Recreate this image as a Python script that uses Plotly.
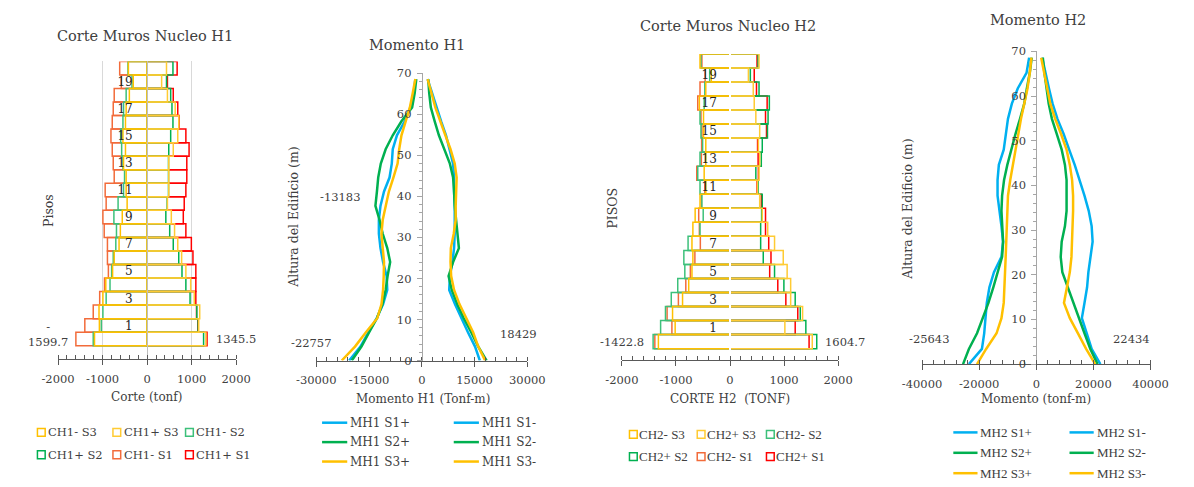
import plotly.graph_objects as go

# ---------------- DATA ----------------
floors = list(range(21))
floor_ticks = [1, 3, 5, 7, 9, 11, 13, 15, 17, 19]
corte_ticks = [-2000, -1000, 0, 1000, 2000]
mom1_ticks = [-30000, -15000, 0, 15000, 30000]
mom2_ticks = [-40000, -20000, 0, 20000, 40000]

# Corte Muros Nucleo H1 (tonf), floor 0 -> 20
ch1_s3n = [-1181, -1072, -1080, -993, -928, -775, -739, -630, -601, -558, -449, -471, -471, -529, -486, -543, -486, -471, -399, -312, -420]
ch1_s3p = [1320, 1159, 1181, 1058, 978, 870, 775, 688, 616, 543, 456, 486, 486, 486, 587, 688, 710, 630, 456, 326, 435]
ch1_s2n = [-1210, -1029, -993, -920, -833, -797, -761, -703, -688, -746, -652, -529, -507, -543, -572, -594, -543, -529, -471, -340, -430]
ch1_s2p = [1268, 1145, 1116, 964, 870, 783, 710, 587, 507, 420, 450, 480, 480, 480, 486, 529, 580, 558, 529, 435, 580]
ch1_s1n = [-1599.7, -1399, -1210, -1065, -957, -870, -891, -891, -964, -993, -920, -942, -739, -761, -783, -812, -783, -761, -739, -580, -616]
ch1_s1p = [1345.5, 1140, 1109, 1094, 1094, 1094, 1029, 993, 870, 812, 833, 870, 891, 891, 942, 870, 717, 688, 587, 456, 674]

# Corte Muros Nucleo H2 (tonf), floor 0 -> 20
ch2_s3n = [-1325, -1015, -1063, -878, -764, -704, -687, -704, -687, -645, -555, -448, -478, -448, -448, -490, -490, -567, -448, -346, -555]
ch2_s3p = [1522, 1015, 1343, 1122, 1122, 1057, 985, 824, 698, 597, 549, 507, 537, 549, 525, 549, 478, 448, 430, 340, 537]
ch2_s2n = [-1422.8, -1284, -1194, -1087, -967, -836, -854, -776, -555, -496, -520, -555, -597, -555, -507, -537, -555, -478, -466, -376, -537]
ch2_s2p = [1604.7, 1403, 1300, 1206, 997, 824, 615, 567, 567, 585, 597, 519, 478, 579, 597, 693, 704, 728, 537, 376, 519]
ch2_s1n = [-1391, -1075, -1164, -955, -818, -734, -650, -549, -567, -579, -530, -466, -615, -530, -525, -520, -537, -597, -555, -460, -520]
ch2_s1p = [1463, 1206, 1254, 1033, 884, 734, 758, 716, 657, 657, 579, 500, 525, 520, 510, 675, 657, 687, 490, 448, 500]

# Building heights (m)
heights = [0, 3.4, 6.9, 10.3, 13.7, 17.2, 20.6, 24.0, 27.4, 30.9, 34.3, 37.7, 41.2, 44.6, 48.0, 51.5, 54.9, 58.3, 61.7, 65.2, 68.6]

# Momento H1 (tonf-m)
mh1_s1p = [16513, 15137, 13119, 11284, 9449, 7798, 7981, 8715, 9174, 9357, 9449, 9357, 9174, 9174, 8899, 7981, 6881, 5504, 4128, 2936, 1651]
mh1_s1n = [-20641, -17431, -15137, -12844, -11009, -9816, -10000, -11009, -11743, -12201, -12201, -11743, -10734, -9174, -8532, -8257, -7064, -4862, -3211, -2294, -1835]
mh1_s2p = [18429, 16055, 14036, 11926, 10091, 8532, 7614, 8899, 10550, 10091, 9633, 9357, 9174, 8899, 7981, 6422, 4862, 3670, 2569, 2110, 1835]
mh1_s2n = [-19908, -17155, -14954, -12752, -11192, -10275, -9724, -8991, -9816, -11101, -12018, -13183, -12752, -12385, -11651, -10275, -8257, -5780, -2752, -2018, -1560]
mh1_s3p = [18000, 16055, 14587, 12568, 10734, 9174, 8348, 8165, 8257, 9082, 9633, 9633, 9816, 9908, 9357, 8165, 6697, 5229, 3853, 2752, 1651]
mh1_s3n = [-22757, -18990, -15871, -12660, -11468, -11009, -10825, -10734, -11101, -11468, -11101, -10275, -9357, -8073, -6881, -6422, -5780, -4587, -3394, -2569, -1835]

# Momento H2 (tonf-m)
mh2_s1p = [22434, 19380, 17670, 15960, 16872, 17784, 18240, 19038, 19722, 19380, 18354, 16872, 15276, 13452, 11514, 9576, 7410, 5700, 4446, 3192, 2052]
mh2_s1n = [-23598, -19038, -18240, -17784, -17328, -16416, -14820, -12198, -11628, -12198, -12996, -13566, -13566, -13110, -11400, -10716, -9918, -8550, -6498, -3420, -2508]
mh2_s2p = [21432, 18924, 16872, 14934, 13110, 10944, 9120, 8550, 8892, 10032, 10602, 10602, 10602, 10032, 8892, 7182, 5472, 4332, 3534, 2850, 2280]
mh2_s2n = [-25643, -23598, -20748, -18696, -16758, -15048, -13566, -11970, -11628, -11970, -12198, -11970, -11286, -10146, -8778, -7296, -5700, -4218, -3306, -2280, -1596]
mh2_s3p = [20634, 17442, 14592, 11742, 9690, 10602, 11742, 12312, 12540, 12882, 12882, 12882, 12540, 11742, 10602, 8664, 6612, 4902, 3762, 2622, 1710]
mh2_s3n = [-20748, -17556, -13908, -12198, -11400, -11286, -10944, -10716, -10488, -10488, -10260, -9918, -9120, -8208, -7296, -6498, -5358, -4218, -3078, -2280, -1710]

# ---------------- STYLE ----------------
W, H = 1194, 487
SERIF = "DejaVu Serif"
SERIF2 = "Liberation Serif"
TXT = "#404040"
YELLOW, YELLOW2 = "#FFC000", "#FFCB33"
GREEN, GREEN2 = "#00B050", "#3CC07A"
ORANGE, RED, BLUE = "#F26B3A", "#FF0000", "#00B0F0"


def px(x):
    return x / W


def py(y):
    return 1 - y / H


fig = go.Figure()


def add_bar(vals, name, color, xa, ya):
    fig.add_trace(go.Bar(
        x=vals, y=floors, orientation="h", width=1, name=name, showlegend=False,
        marker=dict(color="rgba(0,0,0,0)", line=dict(color=color, width=1.5)),
        xaxis=xa, yaxis=ya,
    ))


def add_line(vals, name, color, xa, ya):
    fig.add_trace(go.Scatter(
        x=vals, y=heights, mode="lines", name=name, showlegend=False,
        line=dict(color=color, width=2.5), xaxis=xa, yaxis=ya,
    ))


# Panel 1 bars (S1 drawn first, S3 last / on top)
p1 = [(ch1_s1n, "CH1- S1", ORANGE), (ch1_s1p, "CH1+ S1", RED),
      (ch1_s2n, "CH1- S2", GREEN2), (ch1_s2p, "CH1+ S2", GREEN),
      (ch1_s3n, "CH1- S3", YELLOW), (ch1_s3p, "CH1+ S3", YELLOW2)]
for v, n, c in p1:
    add_bar(v, n, c, "x", "y")

p2 = [(mh1_s1p, "MH1 S1+", BLUE), (mh1_s1n, "MH1 S1-", BLUE),
      (mh1_s2p, "MH1 S2+", GREEN), (mh1_s2n, "MH1 S2-", GREEN),
      (mh1_s3p, "MH1 S3+", YELLOW), (mh1_s3n, "MH1 S3-", YELLOW)]
for v, n, c in p2:
    add_line(v, n, c, "x2", "y2")

p3 = [(ch2_s1n, "CH2- S1", ORANGE), (ch2_s1p, "CH2+ S1", RED),
      (ch2_s2n, "CH2- S2", GREEN2), (ch2_s2p, "CH2+ S2", GREEN),
      (ch2_s3n, "CH2- S3", YELLOW), (ch2_s3p, "CH2+ S3", YELLOW2)]
for v, n, c in p3:
    add_bar(v, n, c, "x3", "y3")

p4 = [(mh2_s1p, "MH2 S1+", BLUE), (mh2_s1n, "MH2 S1-", BLUE),
      (mh2_s2p, "MH2 S2+", GREEN), (mh2_s2n, "MH2 S2-", GREEN),
      (mh2_s3p, "MH2 S3+", YELLOW), (mh2_s3n, "MH2 S3-", YELLOW)]
for v, n, c in p4:
    add_line(v, n, c, "x4", "y4")

tickfont = dict(family=SERIF, size=11.5, color=TXT)
AX = "#595959"


def xaxis(dom, rng, anchor, ticks, minor, grid=False):
    return dict(domain=[px(dom[0]), px(dom[1])], range=rng, anchor=anchor,
                tickmode="array", tickvals=ticks, ticktext=[str(t) for t in ticks],
                showline=True, linecolor=AX, linewidth=1,
                ticks="outside", ticklen=5, tickcolor=AX,
                minor=dict(tickmode="linear", dtick=minor, tick0=0, ticks="inside", ticklen=4,
                           tickcolor=AX, showgrid=False),
                showgrid=grid, gridcolor="#D9D9D9", gridwidth=1, zeroline=False,
                tickfont=tickfont, ticklabelstandoff=4, fixedrange=True)


def yaxis_floors(dom, rng, pos, linecolor, lw, standoff):
    return dict(domain=[py(dom[0]), py(dom[1])], range=rng, anchor="free", position=px(pos),
                tickmode="array", tickvals=floor_ticks, ticktext=[str(t) for t in floor_ticks],
                ticks="", showline=True, linecolor=linecolor, linewidth=lw,
                layer="above traces", ticklabelstandoff=standoff, showgrid=False, zeroline=False,
                tickfont=dict(family=SERIF, size=12, color="#262626"), fixedrange=True)


def yaxis_height(dom, pos):
    return dict(domain=[py(dom[0]), py(dom[1])], range=[0, 70], anchor="free", position=px(pos),
                dtick=10, tick0=0, ticks="outside", ticklen=5, tickcolor="#A6A6A6", showline=True,
                linecolor="#A6A6A6", minor=dict(dtick=2, tick0=0, ticks="outside", ticklen=3, tickcolor="#A6A6A6"),
                showgrid=False, zeroline=False, tickfont=tickfont, ticklabelstandoff=3, fixedrange=True)


fig.update_layout(
    width=W, height=H, margin=dict(l=0, r=0, t=0, b=0),
    paper_bgcolor="white", plot_bgcolor="white", barmode="overlay", showlegend=False,
    font=dict(family=SERIF, color=TXT),
    xaxis=xaxis((39.3, 223.3), [-2000, 2000], "y", corte_ticks, 200, grid=True),
    yaxis=yaxis_floors((362.7, 56), [-1.5, 20.5], 131.3, "#BFBFBF", 1, 12),
    xaxis2=xaxis((306, 524), [-30000, 30000], "y2", mom1_ticks, 3000),
    yaxis2=yaxis_height((364, 68.3), 415),
    xaxis3=xaxis((621.7, 845), [-2000, 2000], "y3", corte_ticks, 200),
    yaxis3=yaxis_floors((363.3, 48.3), [-1.3, 20.5], 733.35, "white", 1.5, 10),
    xaxis4=xaxis((931.7, 1167.7), [-40000, 40000], "y4", mom2_ticks, 4000),
    yaxis4=yaxis_height((367.7, 45.7), 1049.7),
)


def note(text, x, y, size=12, angle=0, color=TXT, anchor="center", family=SERIF):
    fig.add_annotation(text=text, x=px(x), y=py(y), xref="paper", yref="paper",
                       showarrow=False, xanchor=anchor, yanchor="middle", textangle=angle,
                       font=dict(family=family, size=size, color=color))


# Titles
note("Corte Muros Nucleo H1", 129, 30, 14.5)
note("Momento H1", 410, 39, 14.5)
note("Corte Muros Nucleo H2", 731, 20, 14.5)
note("Momento H2", 1051, 13, 14.5)
# Axis titles
note("Corte (tonf)", 131, 402)
note("Momento H1 (Tonf-m)", 416, 404)
note("CORTE H2  (TONF)", 733, 404)
note("Momento (tonf-m)", 1049, 404)
note("Pisos", 30, 210, 12.5, -90)
note("Altura del Edificio (m)", 283, 216, 12.5, -90)
note("PISOS", 612, 207, 12.5, -90)
note("Altura del Edificio (m)", 916, 208, 12.5, -90)


def dlabel(text, x, y, xa, ya, anchor, xs, ys):
    fig.add_annotation(text=text, x=x, y=y, xref=xa, yref=ya, showarrow=False,
                       xanchor=anchor, yanchor="middle", xshift=xs, yshift=ys, align="center",
                       font=dict(family=SERIF, size=11.5, color=TXT))


dlabel(f"-<br>{-ch1_s1n[0]:.1f}", ch1_s1n[0], floors[0], "x", "y", "right", -6, 4)
dlabel(f"{ch1_s1p[0]:.1f}", ch1_s1p[0], floors[0], "x", "y", "left", 7, 0)
dlabel(f"{ch2_s2n[0]:.1f}", ch2_s2n[0], floors[0], "x3", "y3", "right", -7, 0)
dlabel(f"{ch2_s2p[0]:.1f}", ch2_s2p[0], floors[0], "x3", "y3", "left", 6, 0)
# local minimum of MH1 S2- in the upper half of the building
upper = [i for i, h in enumerate(heights) if h > 25]
i_min = min(upper, key=lambda i: mh1_s2n[i])
dlabel(f"{mh1_s2n[i_min]}", mh1_s2n[i_min], heights[i_min], "x2", "y2", "right", -13, 9)
dlabel(f"{mh1_s3n[0]}", mh1_s3n[0], heights[0], "x2", "y2", "right", -9, 18)
dlabel(f"{mh1_s2p[0]}", mh1_s2p[0], heights[0], "x2", "y2", "left", 11, 27)
dlabel(f"{mh2_s2n[0]}", mh2_s2n[0], heights[0], "x4", "y4", "right", -12, 25)
dlabel(f"{mh2_s1p[0]}", mh2_s1p[0], heights[0], "x4", "y4", "left", 11, 25)

# ---------------- LEGENDS (keys + labels) ----------------
sty1 = {n: c for _, n, c in p1}
sty2 = {n: c for _, n, c in p2}
sty3 = {n: c for _, n, c in p3}
sty4 = {n: c for _, n, c in p4}


def square_key(cx, cy, color, name, gap, family, size):
    fig.add_shape(type="rect", xref="paper", yref="paper",
                  x0=px(cx - 4), x1=px(cx + 4), y0=py(cy + 4), y1=py(cy - 4),
                  line=dict(color=color, width=1.5), fillcolor="rgba(0,0,0,0)")
    note(name, cx + gap, cy, size, anchor="left", family=family)


def line_key(x0, x1, cy, color, name, family, size):
    fig.add_shape(type="line", xref="paper", yref="paper",
                  x0=px(x0), x1=px(x1), y0=py(cy), y1=py(cy),
                  line=dict(color=color, width=2.5))
    note(name, x1 + 1, cy, size, anchor="left", family=family)


rows1 = [["CH1- S3", "CH1+ S3", "CH1- S2"], ["CH1+ S2", "CH1- S1", "CH1+ S1"]]
for r, row in enumerate(rows1):
    for c, n in enumerate(row):
        square_key([22, 100, 175][c], [438, 461][r], sty1[n], n, 5, SERIF, 11.5)

rows2 = [["MH1 S1+", "MH1 S1-"], ["MH1 S2+", "MH1 S2-"], ["MH1 S3+", "MH1 S3-"]]
for r, row in enumerate(rows2):
    for c, n in enumerate(row):
        x0 = [312, 448][c]
        line_key(x0, x0 + 26, [428, 448, 468][r], sty2[n], n, SERIF, 12)

rows3 = [["CH2- S3", "CH2+ S3", "CH2- S2"], ["CH2+ S2", "CH2- S1", "CH2+ S1"]]
for r, row in enumerate(rows3):
    for c, n in enumerate(row):
        square_key([633.5, 703.5, 775][c], [440, 463][r], sty3[n], n, 4, SERIF2, 13)

rows4 = [["MH2 S1+", "MH2 S1-"], ["MH2 S2+", "MH2 S2-"], ["MH2 S3+", "MH2 S3-"]]
for r, row in enumerate(rows4):
    for c, n in enumerate(row):
        x0 = [964, 1084][c]
        line_key(x0, x0 + 25, [438, 459, 480][r], sty4[n], n, SERIF2, 13)

fig.write_html("out.html")
